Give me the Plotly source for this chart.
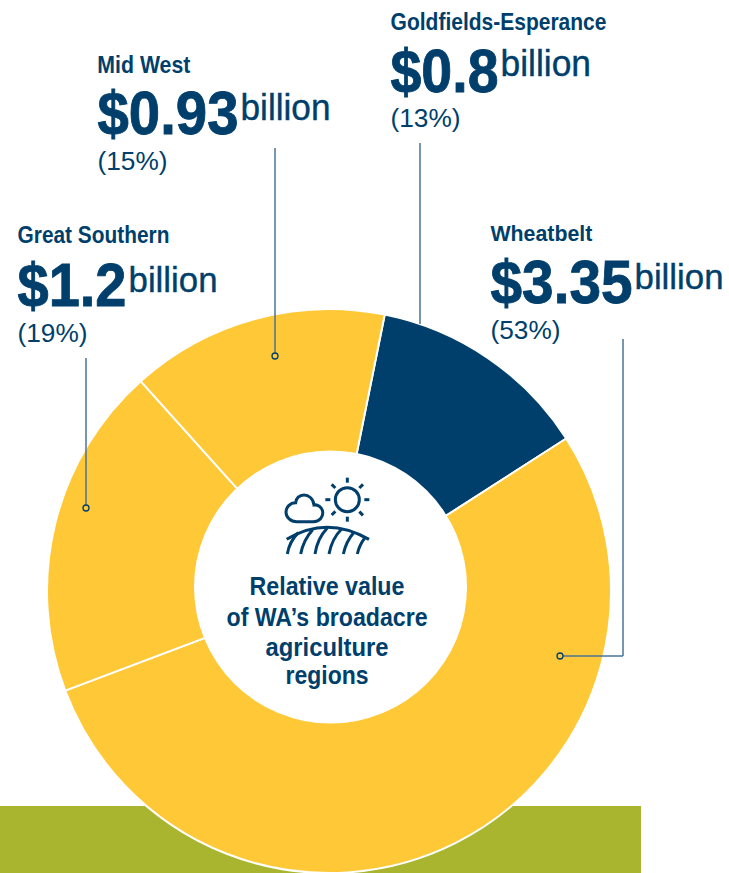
import json
import plotly.graph_objects as go

regions = ["Goldfields-Esperance", "Wheatbelt", "Great Southern", "Mid West"]
values = [0.8, 3.35, 1.2, 0.93]
value_labels = ["$0.8", "$3.35", "$1.2", "$0.93"]
percents = ["(13%)", "(53%)", "(19%)", "(15%)"]
colors = ["#003F6C", "#FFC836", "#FFC836", "#FFC836"]
center_lines = ["Relative value", "of WA\u2019s broadacre", "agriculture", "regions"]

W, H = 729, 873
NAVY = "#003F6C"
SANS = "Liberation Sans, sans-serif"

def px(x): return x / W
def py(y): return 1 - y / H

def to_path(cmds):
    out = []
    for c in cmds:
        if isinstance(c, str):
            out.append(c)
        else:
            out.append(f"{px(c[0]):.5f},{py(c[1]):.5f}")
    return " ".join(out)

def z(x, y):
    return (230 + x / 3, 460 + y / 3)

fig = go.Figure()
cx0, cx1, cy0, cy1 = 47, 611, 309, 873
fig.add_trace(go.Pie(
    labels=regions, values=values, sort=False, direction="clockwise",
    rotation=11.4, hole=0.44, textinfo="none", hoverinfo="label+value",
    marker=dict(colors=colors, line=dict(color="white", width=2)),
    showlegend=False,
    domain=dict(x=[px(cx0), px(cx1)], y=[py(cy1), py(cy0)]),
))

shapes = []
shapes.append(dict(type="rect", xref="paper", yref="paper", layer="below",
                   x0=0, x1=px(641), y0=0, y1=py(806),
                   fillcolor="#AAB52F", line=dict(width=0)))
# the centre disc sits slightly off the ring's centre in the reference
shapes.append(dict(type="circle", xref="paper", yref="paper",
                   x0=px(194), x1=px(467), y0=py(723.5), y1=py(450.5),
                   fillcolor="white", line=dict(width=0)))

def line(x0, y0, x1, y1):
    shapes.append(dict(type="line", xref="paper", yref="paper",
                       x0=px(x0), y0=py(y0), x1=px(x1), y1=py(y1),
                       line=dict(color="#4A7596", width=1.5)))

def dot(x, y, r=3):
    shapes.append(dict(type="circle", xref="paper", yref="paper",
                       x0=px(x - r), x1=px(x + r), y0=py(y + r), y1=py(y - r),
                       fillcolor="#FFC836", line=dict(color=NAVY, width=1.3)))

line(420, 143, 420, 324)
line(275, 148, 275, 353); dot(275, 356)
line(86, 358, 86, 505); dot(86, 508)
line(623, 339, 623, 656); line(623, 656, 563, 656); dot(560, 656)

icon = dict(color=NAVY, width=3)
def path(cmds):
    shapes.append(dict(type="path", xref="paper", yref="paper",
                       path=to_path(cmds), line=icon))

# sun
sx, sy = z(352, 119)
shapes.append(dict(type="circle", xref="paper", yref="paper",
                   x0=px(sx - 12), x1=px(sx + 12), y0=py(sy + 12), y1=py(sy - 12),
                   line=icon))
for a, b, c, d in [(352, 53, 352, 68), (352, 170, 352, 185), (286, 119, 301, 119),
                   (403, 119, 418, 119), (305, 73, 316, 84), (388, 155, 399, 166),
                   (305, 165, 316, 154), (388, 84, 399, 73)]:
    path(["M", z(a, b), "L", z(c, d)])
# cloud
path(["M", z(200, 185), "L", z(250, 185),
      "C", z(270, 185), z(280, 170), z(278, 155),
      "C", z(276, 140), z(262, 133), z(252, 135),
      "C", z(250, 115), z(235, 105), z(222, 105),
      "C", z(208, 105), z(198, 115), z(197, 128),
      "C", z(180, 128), z(168, 142), z(168, 157),
      "C", z(168, 172), z(182, 185), z(200, 185), "Z"])
# hill and furrows
path(["M", z(170, 238), "Q", z(290, 165), z(417, 238)])
for a, b, c, d, e, f in [(172, 282, 178, 245, 205, 218), (212, 282, 220, 240, 248, 209),
                         (255, 282, 262, 235, 292, 204), (297, 282, 306, 235, 335, 207),
                         (340, 282, 348, 245, 372, 217), (382, 282, 388, 255, 405, 233)]:
    path(["M", z(a, b), "Q", z(c, d), z(e, f)])

ann = []
fit_widths = []
strokes = []
def text(x0, x1, y, s, size, bold=False, stroke=0):
    # the text is centred on its span and scaled to that span's width in the browser
    ann.append(dict(xref="paper", yref="paper", x=px((x0 + x1) / 2), y=py(y),
                    text=f"<b>{s}</b>" if bold else s, width=x1 - x0 + 1, borderpad=0,
                    showarrow=False, xanchor="center", yanchor="middle",
                    font=dict(size=size, family=SANS, color=NAVY)))
    fit_widths.append(x1 - x0)
    strokes.append(stroke)

label_pos = {
    "Goldfields-Esperance": dict(x=390, nx1=606, ny=22, vx1=498, vy=70, bx0=500.5, bx1=591),
    "Wheatbelt": dict(x=490, nx1=592, ny=233, vx1=632, vy=282, bx0=634, bx1=723),
    "Great Southern": dict(x=17, nx1=169, ny=235, vx1=126, vy=285, bx0=128, bx1=217),
    "Mid West": dict(x=97, nx1=190, ny=65, vx1=238, vy=113, bx0=240, bx1=330),
}
for name, val, pct in zip(regions, value_labels, percents):
    p = label_pos[name]
    text(p["x"], p["nx1"], p["ny"], name, 23, bold=True)
    text(p["x"], p["vx1"], p["vy"], val, 62, bold=True, stroke=0.9)
    text(p["bx0"], p["bx1"], p["vy"] - 6, "billion", 36, stroke=0.4)
    text(p["x"], p["x"] + 70, p["vy"] + 48, pct, 26)

center_spans = [(249, 404), (226, 427), (265, 388), (285, 368)]
for s, y, (a, b) in zip(center_lines, [586, 617, 647, 675], center_spans):
    text(a, b, y, s, 26, bold=True)

fig.update_layout(width=W, height=H, margin=dict(l=0, r=0, t=0, b=0),
                  paper_bgcolor="white", plot_bgcolor="white",
                  shapes=shapes, annotations=ann, showlegend=False)

fit_js = """
document.body.style.margin='0';document.documentElement.style.overflow='hidden';
var fitW = %s, fitS = %s;
document.querySelectorAll('.annotation').forEach(function(g){
  var i = +g.getAttribute('data-index');
  var t = g.querySelector('text');
  if (!t) return;
  g.querySelectorAll('[clip-path]').forEach(function(e){ e.removeAttribute('clip-path'); });
  var k = fitW[i] / t.getComputedTextLength();
  var cx = parseFloat(t.getAttribute('x')) || 0;
  t.setAttribute('transform', 'translate(' + cx + ',0) scale(' + k + ',1) translate(' + (-cx) + ',0)');
  if (fitS[i]) { t.style.stroke = '%s'; t.style.strokeWidth = fitS[i] + 'px'; }
});
""" % (json.dumps(fit_widths), json.dumps(strokes), NAVY)
fig.write_html("out.html", config=dict(displayModeBar=False), post_script=fit_js)
